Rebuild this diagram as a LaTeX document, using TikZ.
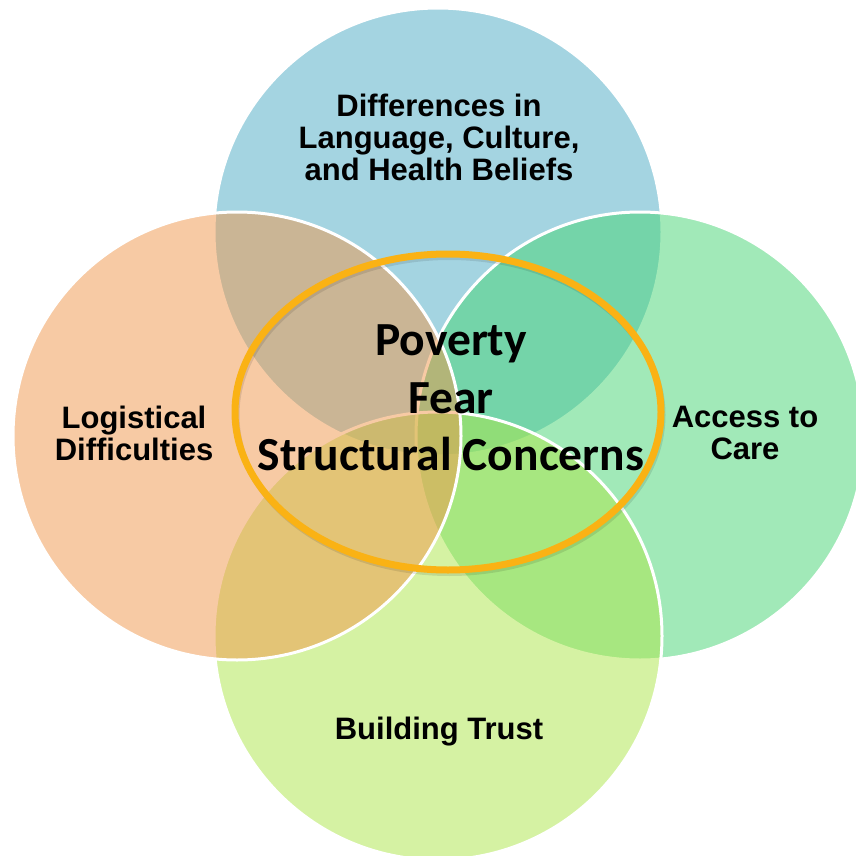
\documentclass[tikz,border=0pt]{standalone}
\usepackage{fontspec}
\setmainfont{Liberation Sans}
\newfontfamily\calibrifont{Carlito}
\definecolor{cblue}{RGB}{75,171,197}
\definecolor{corange}{RGB}{241,151,75}
\definecolor{cgreen}{RGB}{69,213,115}
\definecolor{clime}{RGB}{173,231,73}
\definecolor{cring}{RGB}{250,178,20}
\tikzset{
  venn/.style={draw=white, line width=3pt, fill opacity=0.5},
  outerlabel/.style={font=\fontsize{31}{32}\selectfont\bfseries, align=center, inner sep=0pt, text=black},
  centerlabel/.style={font=\calibrifont\fontsize{47.5}{57.5}\selectfont\bfseries, align=center, inner sep=0pt, text=black},
  ring/.style={draw=cring, line width=7pt},
  ringshadow/.style={draw=black, draw opacity=0.10, line width=6pt}
}
\begin{document}
\begin{tikzpicture}[x=1pt,y=-1pt]
\useasboundingbox (0,0) rectangle (856,856);
\clip (0,0) rectangle (856,856);
\fill[white] (0,0) rectangle (856,856);
% circles: top, right, bottom, left
\path[venn, fill=cblue]   (438,232) circle[radius=224];
\path[venn, fill=cgreen]  (640,436) circle[radius=224];
\path[venn, fill=clime]   (438,636) circle[radius=224];
\path[venn, fill=corange] (237,436) circle[radius=224];
% labels
\node[outerlabel] (top) at (439,137) {Differences in\\Language, Culture,\\and Health Beliefs};
\node[outerlabel] (left) at (134,433) {Logistical\\Difficulties};
\node[outerlabel] (right) at (745,433) {Access to\\Care};
\node[outerlabel, anchor=base] (bottom) at (439,739) {Building Trust};
% central ring
\draw[ringshadow] (449.5,415) ellipse[x radius=213, y radius=158];
\draw[ring] (448,412) ellipse[x radius=213, y radius=158];
\node[centerlabel] (center) at (451,398) {Poverty\\Fear\\Structural Concerns};
\end{tikzpicture}
\end{document}
